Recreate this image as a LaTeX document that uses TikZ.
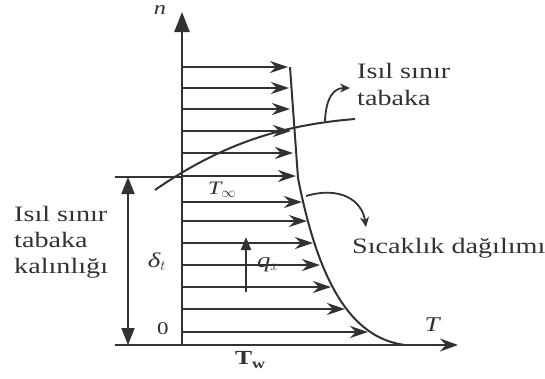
\documentclass[tikz,border=0pt]{standalone}
\usepackage{fontspec}
\setmainfont{Liberation Serif}[FakeStretch=1.28]
\usepackage{tikz}
\usetikzlibrary{arrows.meta, positioning}
\definecolor{inkGray}{RGB}{50,50,50}

\begin{document}
\begin{tikzpicture}[x=1pt, y=-1pt,
    lbl/.style={font=\fontsize{22}{26}\selectfont, text=inkGray,
                inner sep=0pt, align=left},
    sym/.style={font=\fontsize{21}{24}\selectfont\itshape, text=inkGray,
                inner sep=0pt},
    axis/.style={line width=2.6pt, draw=inkGray,
                 -{Triangle[length=20pt,width=15pt]}},
    base/.style={line width=2.6pt, draw=inkGray,
                 -{Stealth[length=18pt,width=13pt,inset=6pt]}},
    flow/.style={line width=2pt, draw=inkGray,
                 -{Stealth[length=18pt,width=12pt,inset=6pt]}},
    dim/.style={line width=2pt, draw=inkGray,
                {Triangle[length=17pt,width=13pt]}-{Triangle[length=17pt,width=13pt]}},
    note/.style={line width=1.8pt, draw=inkGray,
                 -{Stealth[length=10pt,width=9pt]}},
    thin/.style={line width=2pt, draw=inkGray}
]
\useasboundingbox (0,0) rectangle (545,378);

% axes
\coordinate (O)    at (182,345);
\coordinate (ntop) at (182,12);
\coordinate (bl)   at (115,345);
\coordinate (br)   at (458,345);
\draw[axis] (O) -- (ntop);
\draw[base] (bl) -- (br);

% temperature arrows
\foreach \y/\x in {67/288, 88/289, 109/290, 131/291, 153/293, 176/296,
                   202/302, 221/307, 243/313, 265/320, 287/331, 309/345,
                   332/368}
  \draw[flow] (182,\y) -- (\x,\y);

% profile and boundary layer edge
\draw[thin] (290,67) -- (298,178) .. controls (318,280) and (350,338) .. (405,345);
\draw[thin] (155,190) .. controls (220,145) and (280,125) .. (355,119);

% thickness
\coordinate (dtop) at (128,177);
\coordinate (dbot) at (128,345);
\draw[thin] (115,177) -- (182,177);
\draw[dim] (dtop) -- (dbot);

% pointers
\draw[note] (325,121) .. controls (326,97) and (334,88) .. (350,88);
\draw[note] (306,196) .. controls (340,186) and (362,200) .. (366,227);
\coordinate (qlo) at (246,292);
\coordinate (qhi) at (246,237);
\draw[thin, -{Triangle[length=13pt,width=10pt]}] (qlo) -- (qhi);

% labels
\node[sym, font=\fontsize{19}{22}\selectfont\itshape] (nlbl) at (160,10) {n};
\node[sym] (tlbl) at (432,325) {T};
\node[sym, font=\fontsize{19}{22}\selectfont\itshape] (tinf) at (222,190) {T$_\infty$};
\node[sym] (delta) at (157,262) {δ$_t$};
\node[sym] (qx) at (268,265) {q$_x$};
\node[lbl, font=\fontsize{18}{20}\selectfont] (zero) at (163,329) {0};
\node[lbl, font=\fontsize{20}{22}\selectfont\bfseries] (tw) at (249,360) {T$_{\mathbf{w}}$};

\node[lbl, anchor=west] (thick) at (14,242) {Isıl sınır\\tabaka\\kalınlığı};
\node[lbl, anchor=west, font=\fontsize{22}{27}\selectfont] (blayer) at (357,84) {Isıl sınır\\tabaka};
\node[lbl, anchor=west] (tdist) at (352,248) {Sıcaklık dağılımı};
\end{tikzpicture}
\end{document}
